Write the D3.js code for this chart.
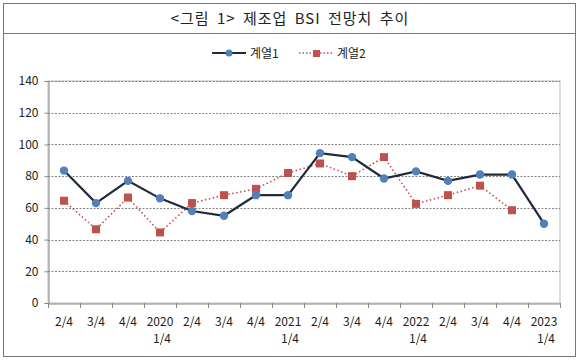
<!DOCTYPE html>
<html>
<head>
<meta charset="utf-8">
<script src="https://cdn.jsdelivr.net/npm/d3@7"></script>
<style>
  body { margin: 0; background: #fff; }
  svg text { font-family: "Noto Sans CJK KR", "Noto Sans", sans-serif; fill: #222; }
</style>
</head>
<body>
<svg id="chart" width="580" height="362"></svg>
<script>
// quarter labels (top line / bottom line)
const quarters = ["2/4","3/4","4/4","2020","2/4","3/4","4/4","2021","2/4","3/4","4/4","2022","2/4","3/4","4/4","2023"]
const quarterSub = ["","","","1/4","","","","1/4","","","","1/4","","","","1/4"]
const series1 = [83.5, 63, 77, 66, 58, 55, 68, 68, 94.5, 92, 78.5, 83, 77, 81, 81, 50]
const series2 = [64.5, 46.5, 66.5, 44.5, 63, 68, 72, 82, 88, 80, 92, 62.5, 68, 74, 58.5, null]
const yTicks = [0, 20, 40, 60, 80, 100, 120, 140]

var svg = d3.select("#chart")

// outer frame + title row
svg.append("rect").attr("x",3.5).attr("y",3.5).attr("width",572).attr("height",353)
  .attr("fill","none").attr("stroke","#777").attr("stroke-width",1)
svg.append("line").attr("x1",3.5).attr("x2",575.5).attr("y1",33.5).attr("y2",33.5)
  .attr("stroke","#777")
svg.append("text").attr("x",290).attr("y",24).attr("text-anchor","middle")
  .style("font-size","15px").style("letter-spacing","1px").style("word-spacing","3px")
  .text("<그림 1> 제조업 BSI 전망치 추이")

var x = d3.scaleBand().domain(d3.range(quarters.length)).range([48, 560])
var y = d3.scaleLinear().domain([0, 140]).range([303, 81])

// plot area border
svg.append("rect").attr("x",48).attr("y",81).attr("width",512).attr("height",222)
  .attr("fill","none").attr("stroke","#bbb")

// gridlines
svg.append("g").selectAll("line").data(yTicks.filter(d => d > 0)).join("line")
  .attr("x1",48).attr("x2",560)
  .attr("y1",d => Math.round(y(d)) + 0.5).attr("y2",d => Math.round(y(d)) + 0.5)
  .attr("stroke","#666").attr("stroke-dasharray","2,1.5").attr("stroke-width",0.8)

// y axis
var yAxis = svg.append("g").attr("transform","translate(48.5,0)")
  .call(d3.axisLeft(y).tickValues(yTicks).tickSize(4).tickPadding(6))
yAxis.select(".domain").attr("stroke","#888")
yAxis.selectAll(".tick line").attr("stroke","#888")
yAxis.selectAll("text").style("font-size","12px").style("fill","#222")

// x axis
var xAxis = svg.append("g").attr("transform","translate(0,303.5)")
  .call(d3.axisBottom(x).tickSize(0).tickFormat(""))
xAxis.select(".domain").attr("stroke","#888")
svg.append("g").selectAll("line").data(d3.range(quarters.length + 1)).join("line")
  .attr("x1",d => Math.round(48 + d * x.step()) + 0.5)
  .attr("x2",d => Math.round(48 + d * x.step()) + 0.5)
  .attr("y1",303).attr("y2",308).attr("stroke","#888")
var xl = svg.append("g").selectAll("text").data(quarters).join("text")
  .attr("x",(d,i) => x(i) + x.bandwidth() / 2).attr("y",326)
  .attr("text-anchor","middle").style("font-size","12px").text(d => d)
svg.append("g").selectAll("text").data(quarterSub).join("text")
  .attr("x",(d,i) => x(i) + x.bandwidth() / 2 + 2).attr("y",343)
  .attr("text-anchor","middle").style("font-size","12px").text(d => d)

var cx = i => x(i) + x.bandwidth() / 2

// series 2 (red dotted, squares)
var line2 = d3.line().defined(d => d != null).x((d,i) => cx(i)).y(d => y(d))
svg.append("path").datum(series2).attr("d",line2).attr("fill","none")
  .attr("stroke","#c0504d").attr("stroke-width",1.6).attr("stroke-dasharray","1.5,2.5")
svg.append("g").selectAll("rect").data(series2.map((v,i) => [v,i]).filter(d => d[0] != null)).join("rect")
  .attr("x",d => cx(d[1]) - 4).attr("y",d => y(d[0]) - 4).attr("width",8).attr("height",8)
  .attr("fill","#c0504d")

// series 1 (dark line, blue dots)
var line1 = d3.line().x((d,i) => cx(i)).y(d => y(d))
svg.append("path").datum(series1).attr("d",line1).attr("fill","none")
  .attr("stroke","#1f2a3a").attr("stroke-width",2.2)
svg.append("g").selectAll("circle").data(series1).join("circle")
  .attr("cx",(d,i) => cx(i)).attr("cy",d => y(d)).attr("r",4.2).attr("fill","#4f81bd")

// legend
var lg = svg.append("g")
lg.append("line").attr("x1",212).attr("x2",246).attr("y1",53).attr("y2",53)
  .attr("stroke","#1f2a3a").attr("stroke-width",2.2)
lg.append("circle").attr("cx",229).attr("cy",53).attr("r",3.5).attr("fill","#4f81bd")
lg.append("text").attr("x",250).attr("y",57.5).style("font-size","12px").text("계열1")
lg.append("line").attr("x1",299).attr("x2",333).attr("y1",53).attr("y2",53)
  .attr("stroke","#c0504d").attr("stroke-width",1.4).attr("stroke-dasharray","1.5,2")
lg.append("rect").attr("x",313).attr("y",50).attr("width",7).attr("height",7).attr("fill","#c0504d")
lg.append("text").attr("x",337).attr("y",57.5).style("font-size","12px").text("계열2")
</script>
</body>
</html>
